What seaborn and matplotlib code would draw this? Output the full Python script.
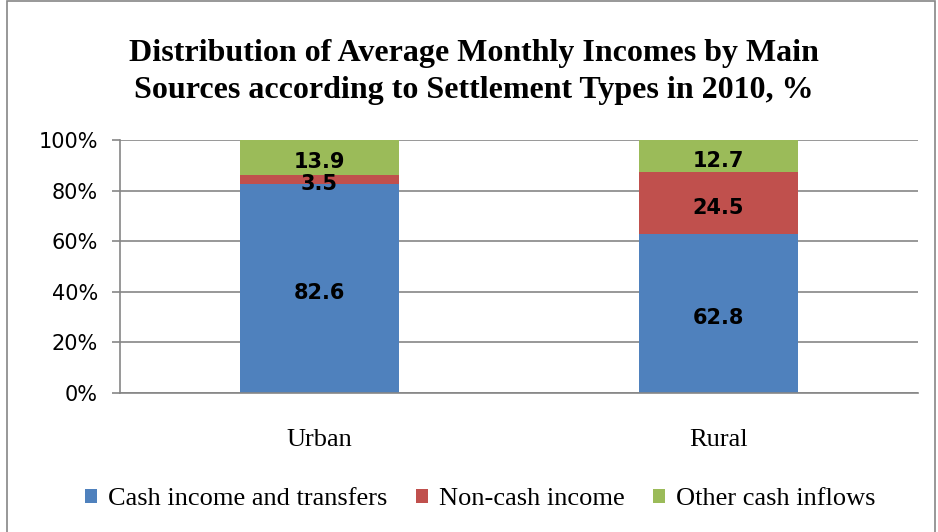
import matplotlib.pyplot as plt
import seaborn as sns
import numpy as np
import pandas as pd
from matplotlib.patches import Rectangle

# Данные
settlements = ['Urban', 'Rural']
cash_income = [82.6, 62.8]
non_cash_income = [3.5, 24.5]
other_inflows = [13.9, 12.7]
series_names = ['Cash income and transfers', 'Non-cash income', 'Other cash inflows']
colors = ['#4F81BD', '#C0504D', '#9BBB59']

df = pd.DataFrame({
    'Settlement': settlements,
    'cash': cash_income,
    'noncash': non_cash_income,
    'other': other_inflows,
})
df['top2'] = df['cash'] + df['noncash']
df['total'] = df['top2'] + df['other']

sns.set_style('white')
plt.rcParams['text.color'] = 'black'
plt.rcParams['xtick.color'] = 'black'
plt.rcParams['ytick.color'] = 'black'

fig = plt.figure(figsize=(9.38, 5.32), dpi=100)
ax = fig.add_axes([120 / 938, 1 - 393 / 532, 798 / 938, 253 / 532])

# Накопленные столбцы: рисуем от большего к меньшему
for col, color, name in zip(['total', 'top2', 'cash'], colors[::-1], series_names[::-1]):
    sns.barplot(data=df, x='Settlement', y=col, color=color, width=0.4,
                saturation=1, ax=ax, label=name, edgecolor='none', zorder=3)

# Подписи значений
for i in range(len(settlements)):
    bottoms = [0, cash_income[i], cash_income[i] + non_cash_income[i]]
    vals = [cash_income[i], non_cash_income[i], other_inflows[i]]
    for b, v in zip(bottoms, vals):
        ax.annotate(f'{v:.1f}', (i, b + v / 2), xytext=(0, -3.5), textcoords='offset points',
                    ha='center', va='center', color='black',
                    fontsize=15, fontweight='bold', family='DejaVu Sans', zorder=5)

ax.set_xlim(-0.5, 1.5)
ax.set_ylim(0, 100)
ax.set_yticks(np.arange(0, 101, 20))
ax.set_yticklabels([f'{v}%' for v in range(0, 101, 20)], fontsize=15, family='DejaVu Sans')
ax.set_xticks([0, 1])
ax.set_xticklabels(settlements, fontsize=19, family='Liberation Serif')
ax.set_xticks([-0.5, 0.5, 1.5], minor=True)
ax.tick_params(axis='x', which='major', length=0, pad=26, labelcolor='black')
ax.tick_params(axis='x', which='minor', length=5, width=1.2, color='#868686', direction='out')
ax.tick_params(axis='y', length=6, width=1.2, color='#868686', pad=10, direction='out',
               left=True, labelcolor='black')
ax.set_xlabel('')
ax.set_ylabel('')
ax.grid(axis='y', color='#868686', linewidth=1.2, zorder=0)
ax.set_axisbelow(True)
for s in ['top', 'right']:
    ax.spines[s].set_visible(False)
for s in ['left', 'bottom']:
    ax.spines[s].set_color('#868686')
    ax.spines[s].set_linewidth(1.2)
    ax.spines[s].set_zorder(4)

# Легенда в порядке серий
handles, labels = ax.get_legend_handles_labels()
order = [labels.index(n) for n in series_names]
fig.legend([handles[k] for k in order], series_names, loc='center',
           bbox_to_anchor=(0.512, 1 - 499 / 532), ncol=3, frameon=False,
           prop={'family': 'Liberation Serif', 'size': 19},
           handlelength=0.45, handleheight=0.45, handletextpad=0.4, columnspacing=1.1)
if ax.get_legend() is not None:
    ax.get_legend().remove()

fig.text(0.505, 1 - 72 / 532,
         'Distribution of Average Monthly Incomes by Main\nSources according to Settlement Types in 2010, %',
         ha='center', va='center', fontsize=23, fontweight='bold',
         family='Liberation Serif', linespacing=1.35)

fig.patches.append(Rectangle((7 / 938, -0.01), 928 / 938, 1.008, transform=fig.transFigure,
                             fill=False, edgecolor='#868686', linewidth=1.2))

fig.savefig('out.png', dpi=100)
